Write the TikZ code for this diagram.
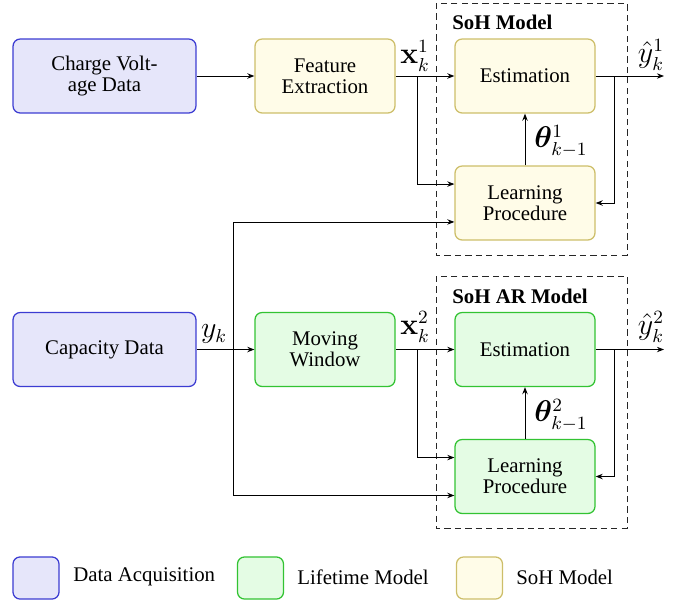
\documentclass[tikz,border=0pt]{standalone}
\usepackage[no-math]{fontspec}
\setmainfont{Liberation Serif}
\usepackage{amsmath,bm}
\usetikzlibrary{arrows.meta}
\definecolor{acqfill}{RGB}{230,230,250}
\definecolor{acqdraw}{RGB}{60,60,210}
\definecolor{lifefill}{RGB}{228,252,228}
\definecolor{lifedraw}{RGB}{50,195,50}
\definecolor{sohfill}{RGB}{255,252,232}
\definecolor{sohdraw}{RGB}{205,190,105}
\begin{document}
\begin{tikzpicture}[x=0.48pt,y=-0.48pt,
  font=\fontsize{10}{10}\selectfont,
  blk/.style={rounded corners=3.4pt, line width=0.6pt, align=center, inner sep=1pt, minimum height=35.5pt},
  acq/.style={blk, draw=acqdraw, fill=acqfill},
  life/.style={blk, draw=lifedraw, fill=lifefill},
  soh/.style={blk, draw=sohdraw, fill=sohfill},
  wide/.style={minimum width=87.8pt},
  mid/.style={minimum width=67.2pt},
  leg/.style={minimum width=22.1pt, minimum height=20.2pt},
  conn/.style={line width=0.45pt, -{Stealth[length=3.4pt,width=2.6pt]}},
  frame/.style={draw=black!85, dash pattern=on 3pt off 2pt, line width=0.45pt},
  mlab/.style={font=\fontsize{13.5}{13.5}\selectfont, inner sep=0pt},
  ttl/.style={anchor=base west, font=\fontsize{10}{10}\selectfont\bfseries}
]
\useasboundingbox (0,0) rectangle (679,603);

% dashed frames
\draw[frame] (436,3) rectangle (627,255);
\draw[frame] (436,276) rectangle (627,528);
\node[ttl] (t1) at (445,29) {SoH Model};
\node[ttl] (t2) at (445,303) {SoH AR Model};

% top row
\node[acq, wide] (cv) at (104.5,76) {Charge Volt-\\age Data};
\node[soh, mid] (fe) at (325,76) {Feature\\Extraction};
\node[soh, mid] (est1) at (525,76) {Estimation};
\node[soh, mid] (lp1) at (525,203) {Learning\\Procedure};

% bottom row
\node[acq, wide] (cap) at (104.5,349.5) {Capacity Data};
\node[life, mid] (mw) at (325,349.5) {Moving\\Window};
\node[life, mid] (est2) at (525,349.5) {Estimation};
\node[life, mid] (lp2) at (525,476.5) {Learning\\Procedure};

% coordinates
\coordinate (j1) at (417,76);
\coordinate (j2) at (614,76);
\coordinate (o1) at (664,76);
\coordinate (j3) at (233,349.5);
\coordinate (j4) at (417,349.5);
\coordinate (j5) at (614,349.5);
\coordinate (o2) at (664,349.5);

% top connectors
\draw[conn] (cv.east) -- (fe.west);
\draw[conn] (fe.east) -- (est1.west);
\draw[conn] (j1) |- ([yshift=9.1pt]lp1.west);
\draw[conn] (est1.east) -- (o1);
\draw[conn] (j2) |- (lp1.east);
\draw[conn] (lp1.north) -- (est1.south);

% bottom connectors
\draw[conn] (cap.east) -- (mw.west);
\draw[conn] (mw.east) -- (est2.west);
\draw[conn] (j4) |- ([yshift=9.1pt]lp2.west);
\draw[conn] (est2.east) -- (o2);
\draw[conn] (j5) |- (lp2.east);
\draw[conn] (lp2.north) -- (est2.south);
\draw[conn] (j3) |- ([yshift=-9.1pt]lp1.west);
\draw[conn] (j3) |- ([yshift=-9.1pt]lp2.west);

% labels
\node[mlab] (lx1) at (415,56) {$\mathbf{x}_k^1$};
\node[mlab] (ly1) at (651,55) {$\hat{y}_k^1$};
\node[mlab] (lt1) at (561,141) {$\bm{\theta}_{k-1}^1$};
\node[mlab] (lyk) at (214,334) {$y_k$};
\node[mlab] (lx2) at (415,327) {$\mathbf{x}_k^2$};
\node[mlab] (ly2) at (651,327) {$\hat{y}_k^2$};
\node[mlab] (lt2) at (561,415) {$\bm{\theta}_{k-1}^2$};

% legend
\node[acq, leg] (g1) at (36,578) {};
\node[anchor=west] (g1t) at (66,577) {Data Acquisition};
\node[life, leg] (g2) at (260.5,578) {};
\node[anchor=west] (g2t) at (290,577) {Lifetime Model};
\node[soh, leg] (g3) at (479.5,578) {};
\node[anchor=west] (g3t) at (509,577) {SoH Model};
\end{tikzpicture}
\end{document}
